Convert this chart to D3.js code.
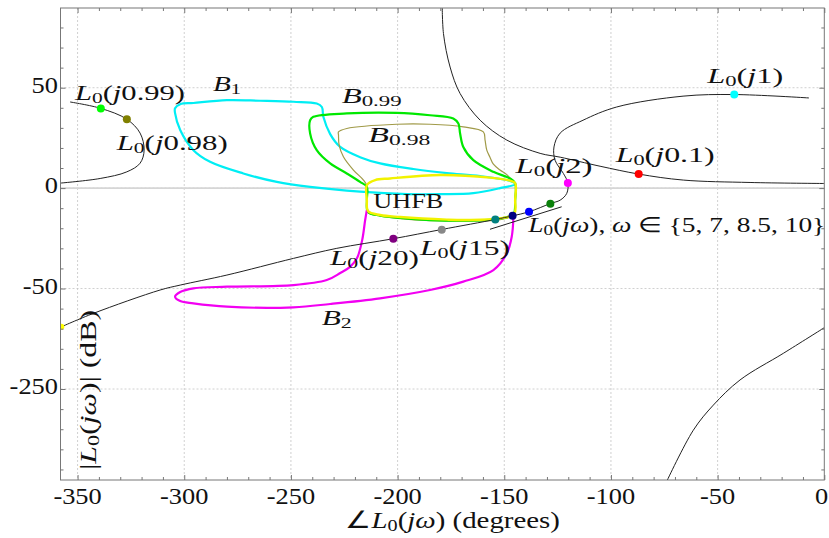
<!DOCTYPE html>
<html>
<head>
<meta charset="utf-8">
<script src="https://cdn.jsdelivr.net/npm/d3@7"></script>
<style>
  body { margin: 0; background: #fff; }
  text { font-family: "Liberation Serif", "Times New Roman", serif; fill: #111; }
</style>
</head>
<body>
<svg id="chart" width="829" height="538"></svg>
<script>
// ---- data: [phase (deg), magnitude (dB)] ----
const xTicks = [-350, -300, -250, -200, -150, -100, -50, 0];
const xMinor = d3.range(-350, 0, 10).filter(d => d % 50 !== 0);
const yTicks = [-250, -50, 0, 50];
const yMinor = [80, 70, 60, 40, 30, 20, 10, -10, -20, -30, -40, -90, -130, -170, -210, -290, -330, -370, -410];

// nominal loop L0(jw), split where it leaves the frame / wraps in phase
const l0Low = [[-179.1, 92], [-178.5, 77], [-175.4, 60.3], [-170.7, 47.1], [-161.3, 33.8], [-148.8, 23.9],
  [-133.2, 17.3], [-123.8, 15.4], [-105.1, 10.9], [-87, 7], [-66.1, 4], [-34.8, 2.8], [0, 2.3]];
const l0Wrap = [[-358, 2.5], [-339.4, 4.8], [-326.9, 8.1], [-320.7, 12.4], [-318.8, 18.9], [-320.7, 27.4],
  [-326.9, 34.3], [-339.1, 39.7], [-353.5, 42.9]];
const l0Mid = [[-7.2, 44.9], [-42.2, 46.6], [-66.2, 45.8], [-97.3, 40.4], [-113.1, 33.8], [-123.8, 27.4],
  [-126.7, 20.5], [-126.2, 13.9], [-122.3, 7.3], [-120.2, 2.6], [-120.7, -2.6], [-123.8, -6], [-128.2, -7.6],
  [-138.4, -11.8], [-146.1, -13.8], [-154.1, -15.6], [-179.3, -20.6], [-202, -25.2], [-228.5, -30],
  [-248.8, -35], [-280, -43.3], [-301.9, -48.3], [-311.3, -53], [-342.5, -99.4], [-358, -127]];
const l0High = [[0, -128], [-19.2, -179], [-39.5, -232], [-52, -282], [-61.4, -332], [-74, -435]];
const l0Stub = [[-156.7, -20.5], [-123.1, -9.3]];

// bounds (closed contours, except B2 which hangs under UHFB)
const boundB1 = [[-304.3, 39.8], [-301.9, 41.8], [-295.7, 42.4], [-280, 43.8], [-264.4, 43.5], [-248.8, 43],
  [-237.9, 42.1], [-235.5, 40.4], [-234.8, 35.5], [-231.6, 26.9], [-226.9, 20.5], [-217.6, 15.4],
  [-208.2, 12.3], [-192.6, 9.5], [-176.9, 7.5], [-161.3, 6], [-147.3, 3.5], [-144.9, 2], [-152, 0],
  [-164.5, -2.5], [-180.1, -3], [-195.5, -3], [-217.6, -1.8], [-241, 0.6], [-256.6, 3.1], [-272.3, 7.3],
  [-287.9, 13.1], [-295.7, 18.9], [-301.9, 28.9], [-304.3, 37.3]];
const boundB099 = [[-241, 33.8], [-239.5, 35.5], [-223.8, 37.2], [-200.4, 37.5], [-184.8, 36.3], [-173.9, 34.7],
  [-171.5, 32.2], [-170.7, 27.2], [-169.2, 20.5], [-164.5, 13.9], [-155.1, 8.1], [-147.3, 4.8], [-144.9, 2.5],
  [-144.9, -6], [-145.7, -12.9], [-152, -15.2], [-167.6, -16.2], [-184.8, -15.9], [-198.8, -14.9],
  [-208.2, -13.7], [-213.9, -11.9], [-214.4, -6], [-214.4, 0.6], [-217.6, 3.1], [-223.8, 7.3],
  [-231.6, 12.3], [-237.9, 18.9], [-241, 27.2]];
const boundB098 = [[-227.7, 28], [-223.8, 29.7], [-200.4, 31.8], [-184.8, 31.8], [-169.2, 30.5], [-159.8, 28],
  [-159, 23.9], [-158.2, 18.9], [-156.7, 15.4], [-155.1, 11.9], [-152, 9], [-148.8, 6.7], [-145.7, 3.1],
  [-144.9, 2], [-144.9, -6], [-145.8, -13.4], [-152, -15.7], [-167.6, -16.4], [-184.8, -16.2],
  [-198.8, -15.2], [-208.2, -13.9], [-213.9, -12.2], [-214.4, -6], [-214.4, 1.2], [-216, 4], [-220.7, 9],
  [-225.4, 15.6], [-227.4, 21.4], [-227.7, 26.4]];
const boundUHFB = [[-214.4, 1.5], [-210.5, 4], [-203.5, 4.8], [-180.1, 6.5], [-156.7, 5.2], [-147.3, 3.7],
  [-144.9, 2.5], [-144.9, -6], [-145.3, -12.9], [-152, -15.1], [-167.6, -15.9], [-176.9, -15.7],
  [-198.8, -14.4], [-208.2, -13.4], [-213.9, -11.4], [-214.4, -6]];
const boundB2 = [[-214.4, -10.9], [-215.2, -15.9], [-216.6, -25.9], [-219, -34.8], [-222.3, -39.2],
  [-226.9, -42.3], [-233.2, -45.8], [-248.8, -48.3], [-280, -49.1], [-295.7, -49.9], [-301.9, -57],
  [-304.3, -66.3], [-301.9, -74.9], [-295.7, -79.5], [-280, -86.2], [-248.8, -87.4], [-231.6, -80.8],
  [-208.2, -69.5], [-184.8, -53], [-169.2, -46.6], [-155.1, -40.8], [-148.8, -32.5], [-146.5, -24.2],
  [-145.7, -14.3]];

// frequency points on L0
const markerW = ["0.1", "1", "2", "5", "7", "8.5", "10", "15", "20", "0.99", "0.98", "end"];
const markerPhase = [-87, -42.2, -120.2, -128.4, -138.4, -146.1, -154.2, -179.3, -202, -339.1, -326.9, -357.6];
const markerGain = [7, 46.6, 2.6, -7.8, -11.8, -13.8, -15.6, -20.7, -25.2, 39.7, 34.3, -126];

// ---- drawing ----
const markerColor = ["#ff0000", "#00ffff", "#ff00ff", "#0a800a", "#0000ff", "#000080", "#008080",
  "#888888", "#800080", "#00ff00", "#808000", "#ffff00"];

const pLeft = 60.5, pRight = 824.3, pTop = 8, pBottom = 480;
const x = d3.scaleLinear().domain([-358, 0]).range([pLeft, pRight]);
const y = d3.scaleLinear().domain([-431, -250, -50, 89.7]).range([pBottom, 389, 288.5, pTop]);

const svg = d3.select("#chart");
svg.append("defs").append("clipPath").attr("id", "plot")
  .append("rect").attr("x", pLeft).attr("y", pTop).attr("width", pRight - pLeft).attr("height", pBottom - pTop);

// grid
const grid = svg.append("g");
grid.selectAll(".gx").data(xTicks.slice(0, -1)).join("line")
  .attr("x1", d => x(d)).attr("x2", d => x(d)).attr("y1", pTop).attr("y2", pBottom);
grid.selectAll(".gy").data(yTicks).join("line")
  .attr("x1", pLeft).attr("x2", pRight).attr("y1", d => y(d)).attr("y2", d => y(d));
grid.selectAll("line").attr("stroke", "#c4c4c4").attr("stroke-width", 0.8).attr("stroke-dasharray", "2,2");
grid.append("line").attr("x1", pLeft).attr("x2", pRight).attr("y1", y(0)).attr("y2", y(0))
  .attr("stroke", "#d6d6d6").attr("stroke-width", 1.6);

// curves
const plot = svg.append("g").attr("clip-path", "url(#plot)");
const open = d3.line().x(d => x(d[0])).y(d => y(d[1])).curve(d3.curveCatmullRom.alpha(0.5));
const closed = d3.line().x(d => x(d[0])).y(d => y(d[1])).curve(d3.curveCatmullRomClosed.alpha(0.5));

plot.append("path").attr("d", closed(boundB1)).attr("stroke", "#00eef4").attr("stroke-width", 2.2).attr("fill", "none");
plot.append("path").attr("d", closed(boundB098)).attr("stroke", "#a09a48").attr("stroke-width", 1.2).attr("fill", "none");
plot.append("path").attr("d", closed(boundB099)).attr("stroke", "#00e800").attr("stroke-width", 2.2).attr("fill", "none");
plot.append("path").attr("d", open(boundB2)).attr("stroke", "#f200f2").attr("stroke-width", 2.2).attr("fill", "none");
plot.append("path").attr("d", closed(boundUHFB)).attr("stroke", "#f2f200").attr("stroke-width", 2.4).attr("fill", "none");

[l0Low, l0Wrap, l0Mid, l0High, l0Stub].forEach(seg => {
  plot.append("path").attr("d", open(seg)).attr("stroke", "#222").attr("stroke-width", 1).attr("fill", "none");
});

plot.selectAll(".mk").data(markerW).join("circle")
  .attr("cx", (d, i) => x(markerPhase[i])).attr("cy", (d, i) => y(markerGain[i]))
  .attr("r", (d, i) => d === "end" ? 3 : 4)
  .attr("fill", (d, i) => markerColor[i]);

// frame and ticks (inward on all four sides)
svg.append("rect").attr("x", pLeft).attr("y", pTop).attr("width", pRight - pLeft).attr("height", pBottom - pTop)
  .attr("fill", "none").attr("stroke", "#777").attr("stroke-width", 1);

function ticks(axis, tr, vals, len) {
  const g = svg.append("g").attr("transform", tr).call(axis.tickValues(vals).tickSize(-len).tickFormat(""));
  g.select(".domain").remove();
  g.selectAll("line").attr("stroke", "#777");
}
ticks(d3.axisBottom(x), `translate(0,${pBottom})`, xTicks, 5);
ticks(d3.axisBottom(x), `translate(0,${pBottom})`, xMinor, 3);
ticks(d3.axisTop(x), `translate(0,${pTop})`, xTicks, 5);
ticks(d3.axisTop(x), `translate(0,${pTop})`, xMinor, 3);
ticks(d3.axisLeft(y), `translate(${pLeft},0)`, yTicks, 5);
ticks(d3.axisLeft(y), `translate(${pLeft},0)`, yMinor, 3);
ticks(d3.axisRight(y), `translate(${pRight},0)`, yTicks, 5);
ticks(d3.axisRight(y), `translate(${pRight},0)`, yMinor, 3);

// the last label would spill past the page edge; keep it just inside
svg.append("g").selectAll("text").data(xTicks).join("text")
  .attr("transform", d => `translate(${Math.min(x(d), 821.5)},504) scale(1.1,1)`)
  .attr("text-anchor", "middle").attr("font-size", 24).text(d => d);
svg.append("g").selectAll("text").data(yTicks).join("text")
  .attr("transform", d => `translate(58,${y(d) + 5}) scale(1.1,1)`)
  .attr("text-anchor", "end").attr("font-size", 24).text(d => d);

// math-style labels
function L0(arg) { return [["L", "i"], ["0", "s"], ["(", ""], ["j", "i"], [arg + ")", ""]]; }
function Bs(sub) { return [["B", "i"], [sub, "s"]]; }

function label(xp, yp, w, fs, parts, rot) {
  const t = svg.append("text").attr("font-size", fs)
    .attr("textLength", w).attr("lengthAdjust", "spacingAndGlyphs");
  if (rot) t.attr("transform", `translate(${xp},${yp}) rotate(-90)`);
  else t.attr("x", xp).attr("y", yp);
  let low = false;
  parts.forEach(([s, k]) => {
    const sp = t.append("tspan").text(s);
    if (k === "i") sp.attr("font-style", "italic");
    if (k === "s") { sp.attr("font-size", fs * 0.7).attr("dy", 3); low = true; }
    else if (low) { sp.attr("dy", -3); low = false; }
  });
}

label(75, 100, 110, 21, L0("0.99"));
label(116.7, 150, 111, 21, L0("0.98"));
label(213, 90.7, 28, 21, Bs("1"));
label(341.7, 103.3, 60, 21, Bs("0.99"));
label(368.3, 141.7, 62, 21, Bs("0.98"));
label(373.3, 208.3, 70, 22, [["UHFB", ""]]);
label(515.5, 173.3, 77, 21, L0("2"));
label(615.7, 161.7, 99, 21, L0("0.1"));
label(707.3, 83.3, 76, 21, L0("1"));
label(528.3, 231.7, 297, 21, [["L", "i"], ["0", "s"], ["(", ""], ["jω", "i"], ["), ", ""], ["ω", "i"], [" ∈ {5, 7, 8.5, 10}", ""]]);
label(330, 265, 89, 21, L0("20"));
label(420, 255, 90, 21, L0("15"));
label(321.7, 325, 30, 21, Bs("2"));

// axis titles
label(345, 528, 215, 24, [["∠", ""], ["L", "i"], ["0", "s"], ["(", ""], ["jω", "i"], [") (degrees)", ""]]);
label(96, 470, 160, 24, [["|", ""], ["L", "i"], ["0", "s"], ["(", ""], ["jω", "i"], [")| (dB)", ""]], true);
</script>
</body>
</html>
